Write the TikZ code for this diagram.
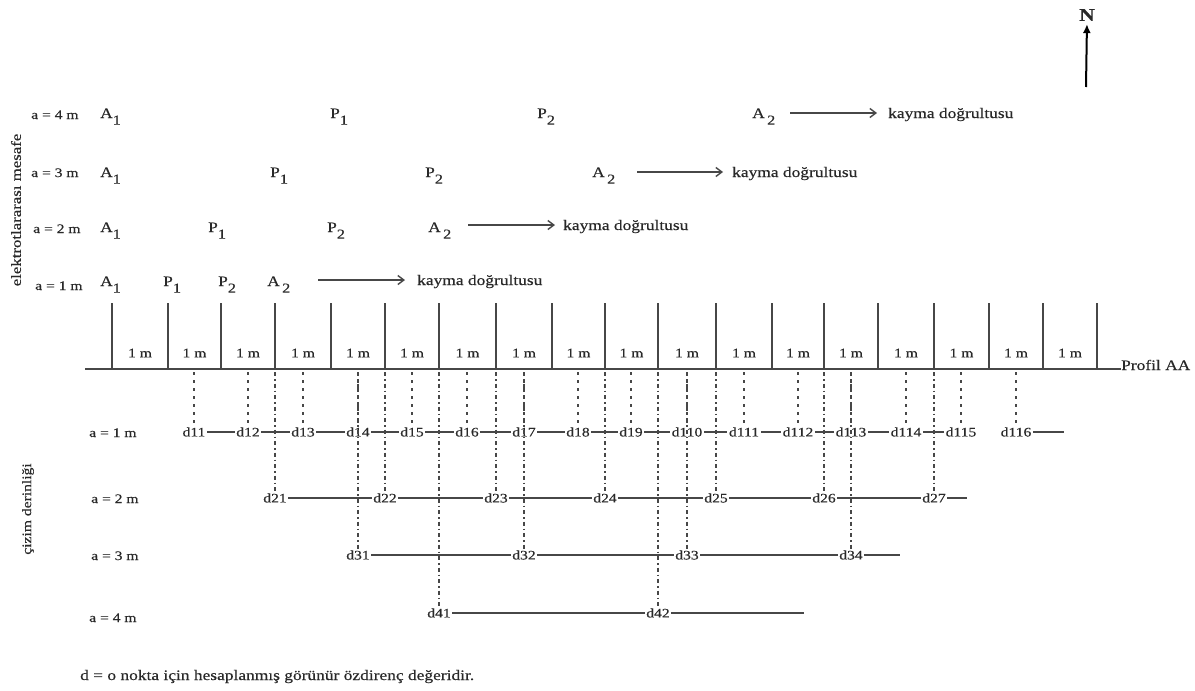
\documentclass[tikz,border=0pt]{standalone}
\usepackage{fontspec}
\setmainfont{Liberation Serif}[FakeStretch=1.2,FakeBold=0.4]
\usetikzlibrary{arrows.meta,backgrounds}
\definecolor{ink}{gray}{0.16}
\definecolor{lin}{gray}{0.28}
\newcommand\elsub[1]{\raisebox{-0.45em}{\fontsize{13.5}{14}\selectfont #1}}
\newcommand\fs[1]{\fontsize{#1}{#1}\selectfont}
\begin{document}
\begin{tikzpicture}[x=1pt,y=-1pt,
  every node/.style={text=ink},
  txt/.style={font=\fs{14.5}, inner sep=0pt, anchor=base west},
  small/.style={font=\fs{13}, inner sep=0pt, anchor=base west},
  unitlab/.style={font=\fs{13}, inner sep=0pt},
  dlab/.style={font=\fs{13}, fill=white, inner sep=1.5pt},
  elecline/.style={draw=lin, line width=1.5pt},
  profline/.style={draw=lin, line width=1.7pt},
  rowline/.style={draw=lin, line width=1.4pt},
  dotv/.style={draw=lin, line width=1.4pt, dash pattern=on 2.5pt off 5.5pt},
  dashv/.style={draw=lin, line width=1.3pt, dash pattern=on 4pt off 3pt on 1.5pt off 3pt},
  slip/.style={draw=lin, line width=1.4pt, -{Straight Barb[length=6pt,width=9pt]}},
]
\useasboundingbox (0,0) rectangle (1195,691);

% north arrow
\node[font=\bfseries\fs{18}, inner sep=0pt] (north) at (1087,15) {N};
\coordinate (nbase) at (1086,87);
\draw[line width=2pt, draw=black, -{Latex[length=9pt,width=8pt]}, shorten >=3pt] (nbase) -- (north.south);

% vertical axis labels
\node[rotate=90, font=\fs{14}, inner sep=0pt] (ylab1) at (16,210) {elektrotlararası mesafe};
\node[rotate=90, font=\fs{13}, inner sep=0pt] (ylab2) at (28,509) {çizim derinliği};

% electrode spacing rows (top)
\node[small] (ra4) at (31,119) {a = 4 m};
\node[small] (ra3) at (31,177) {a = 3 m};
\node[small] (ra2) at (33,233) {a = 2 m};
\node[small] (ra1) at (35,290) {a = 1 m};

\node[txt] (e4A1) at (100,118) {A\elsub{1}};
\node[txt] (e4P1) at (330,118) {P\elsub{1}};
\node[txt] (e4P2) at (537,118) {P\elsub{2}};
\node[txt] (e4A2) at (752,118) {A\,\elsub{2}};
\coordinate (s4a) at (790,113); \coordinate (s4b) at (877,113);
\draw[slip] (s4a) -- (s4b);
\node[txt] (k4) at (888,118) {kayma doğrultusu};

\node[txt] (e3A1) at (100,177) {A\elsub{1}};
\node[txt] (e3P1) at (270,177) {P\elsub{1}};
\node[txt] (e3P2) at (425,177) {P\elsub{2}};
\node[txt] (e3A2) at (592,177) {A\,\elsub{2}};
\coordinate (s3a) at (637,172); \coordinate (s3b) at (723,172);
\draw[slip] (s3a) -- (s3b);
\node[txt] (k3) at (732,177) {kayma doğrultusu};

\node[txt] (e2A1) at (100,232) {A\elsub{1}};
\node[txt] (e2P1) at (208,232) {P\elsub{1}};
\node[txt] (e2P2) at (327,232) {P\elsub{2}};
\node[txt] (e2A2) at (428,232) {A\,\elsub{2}};
\coordinate (s2a) at (468,225); \coordinate (s2b) at (555,225);
\draw[slip] (s2a) -- (s2b);
\node[txt] (k2) at (563,230) {kayma doğrultusu};

\node[txt] (e1A1) at (100,286) {A\elsub{1}};
\node[txt] (e1P1) at (163,286) {P\elsub{1}};
\node[txt] (e1P2) at (218,286) {P\elsub{2}};
\node[txt] (e1A2) at (267,286) {A\,\elsub{2}};
\coordinate (s1a) at (318,280); \coordinate (s1b) at (405,280);
\draw[slip] (s1a) -- (s1b);
\node[txt] (k1) at (417,285) {kayma doğrultusu};

% profile line
\node[txt] (prof) at (1121,370) {Profil AA};
\coordinate (pL) at (85,369);
\draw[profline] (pL) -- (pL -| prof.west);

% electrode positions
\foreach \i/\x in {0/112,1/168,2/221,3/275,4/331,5/385,6/439,7/496,8/552,9/605,10/658,11/716,12/772,13/824,14/878,15/934,16/989,17/1043,18/1097}{
  \coordinate (t\i) at (\x,369);
  \coordinate (u\i) at (\x,303);
  \draw[elecline] (u\i) -- (t\i);
}
\foreach \x in {140,194.5,248,303,358,412,467.5,524,578.5,631.5,687,744,798,851,906,961.5,1016,1070}{
  \node[unitlab] at (\x,353) {1 m};
}

% bottom row labels
\node[small] (b1) at (89,437) {a = 1 m};
\node[small] (b2) at (91,503) {a = 2 m};
\node[small] (b3) at (91,560) {a = 3 m};
\node[small] (b4) at (89,622) {a = 4 m};

% d labels
\foreach \k/\x in {1/194,2/248,3/303,4/358,5/412,6/467,7/524,8/578,9/631,10/687,11/744,12/798,13/851,14/906,15/961,16/1016}{
  \node[dlab] (d1\k) at (\x,432) {d1\k};
}
\foreach \k/\x in {1/275,2/385,3/496,4/605,5/716,6/824,7/934}{
  \node[dlab] (d2\k) at (\x,498) {d2\k};
}
\foreach \k/\x in {1/358,2/524,3/687,4/851}{
  \node[dlab] (d3\k) at (\x,555) {d3\k};
}
\foreach \k/\x in {1/439,2/658}{
  \node[dlab] (d4\k) at (\x,613) {d4\k};
}

% horizontal row lines (behind labels)
\coordinate (r1end) at (1064,432);
\coordinate (r1gap) at (999,432);
\coordinate (r2end) at (967,498);
\coordinate (r3end) at (900,555);
\coordinate (r4end) at (804,613);
\begin{scope}[on background layer]
  \draw[rowline] (d11.east) -- (d115.west);
  \draw[rowline] (r1gap) -- (d116.west);
  \draw[rowline] (d116.east) -- (r1end);
  \draw[rowline] (d21.east) -- (r2end);
  \draw[rowline] (d31.east) -- (r3end);
  \draw[rowline] (d41.east) -- (r4end);
\end{scope}

% vertical projection lines
\foreach \k/\x in {1/194,2/248,3/303,4/358,5/412,6/467,7/524,8/578,9/631,10/687,11/744,12/798,13/851,14/906,15/961,16/1016}{
  \coordinate (q1\k) at (\x,372);
  \draw[dotv] (q1\k) -- (d1\k.north);
}
\foreach \k/\x in {1/275,2/385,3/496,4/605,5/716,6/824,7/934}{
  \coordinate (q2\k) at (\x,372);
  \draw[dashv] (q2\k) -- (d2\k.north);
}
\foreach \k/\x in {1/358,2/524,3/687,4/851}{
  \coordinate (q3\k) at (\x,372);
  \draw[dashv] (q3\k) -- (d3\k.north);
}
\foreach \k/\x in {1/439,2/658}{
  \coordinate (q4\k) at (\x,372);
  \draw[dashv] (q4\k) -- (d4\k.north);
}

% footnote
\node[txt] (foot) at (80,680) {d = o nokta için hesaplanmış görünür özdirenç değeridir.};
\end{tikzpicture}
\end{document}
